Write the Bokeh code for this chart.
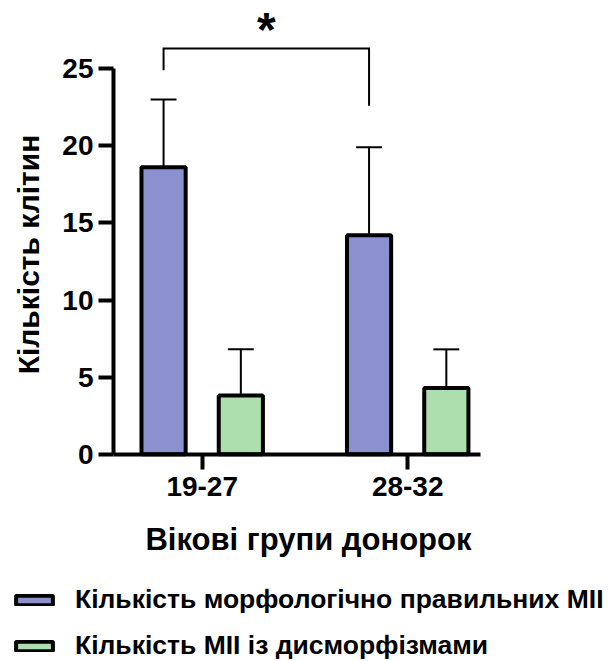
import math
from bokeh.plotting import figure
from bokeh.models import (Range1d, Label, Legend, LegendItem, FixedTicker,
                          ColumnDataSource)
from bokeh.core.properties import value
from bokeh.embed import file_html
from bokeh.resources import INLINE

# ---- data ----
groups = ["19-27", "28-32"]
group_pos = [1, 2]
morph_mean = [18.6, 14.2]
morph_err = [4.4, 5.7]
dysm_mean = [3.8, 4.3]
dysm_err = [3.0, 2.5]
y_ticks = [0, 5, 10, 15, 20, 25]
series_names = ["Кількість морфологічно правильних MII",
                "Кількість MII із дисморфізмами"]
y_title = "Кількість клітин"
x_title = "Вікові групи донорок"
sig_bracket_y = 26.3
sig_bracket_ends = [24.9, 22.6]
sig_text = "*"

# ---- styling / layout ----
FONT = "Liberation Sans"
C_MORPH = "#8A91CE"
C_DYSM = "#ADDEAD"
offset = 0.188
bar_w = 0.215
cap_hw = 0.063
X0, X1 = 0.0185, 3.0015      # frame covers whole canvas
Y0, Y1 = -13.44, 29.42
AX_X = 0.5684                 # where the y axis sits
AX_XEND = 2.354               # right end of x axis line

p = figure(width=613, height=661,
           x_range=Range1d(X0, X1), y_range=Range1d(Y0, Y1),
           output_backend="svg", toolbar_location=None,
           min_border_left=0, min_border_right=0,
           min_border_top=0, min_border_bottom=0)
p.outline_line_color = None
p.grid.visible = False
p.background_fill_color = "white"
p.border_fill_color = "white"

x_morph = [g - offset for g in group_pos]
x_dysm = [g + offset for g in group_pos]

src_m = ColumnDataSource(dict(x=x_morph, top=morph_mean,
                              up=[m + e for m, e in zip(morph_mean, morph_err)]))
src_d = ColumnDataSource(dict(x=x_dysm, top=dysm_mean,
                              up=[m + e for m, e in zip(dysm_mean, dysm_err)]))

for src in (src_m, src_d):
    p.segment(x0="x", y0="top", x1="x", y1="up", source=src,
              line_color="black", line_width=2)
    d = src.data
    p.segment(x0=[x - cap_hw for x in d["x"]], y0=d["up"],
              x1=[x + cap_hw for x in d["x"]], y1=d["up"],
              line_color="black", line_width=2)

r_m = p.vbar(x="x", top="top", width=bar_w, source=src_m,
             fill_color=C_MORPH, line_color="black", line_width=4)
r_d = p.vbar(x="x", top="top", width=bar_w, source=src_d,
             fill_color=C_DYSM, line_color="black", line_width=4)

# significance bracket between the two "morph" bars
bx0, bx1 = x_morph[0], x_morph[1]
p.line(x=[bx0, bx0, bx1, bx1],
       y=[sig_bracket_ends[0], sig_bracket_y, sig_bracket_y, sig_bracket_ends[1]],
       line_color="black", line_width=2, line_join="miter")
p.text(x=[(bx0 + bx1) / 2], y=[sig_bracket_y + 1.25], text=[sig_text],
       text_font=value(FONT), text_font_style="bold", text_font_size="48px",
       text_align="center", text_baseline="alphabetic", text_color="black")

# axes drawn at fixed data locations inside the frame
p.yaxis.fixed_location = AX_X
p.xaxis.fixed_location = 0
p.yaxis.ticker = FixedTicker(ticks=y_ticks)
p.yaxis.bounds = (y_ticks[0], y_ticks[-1])
p.xaxis.ticker = FixedTicker(ticks=group_pos)
p.xaxis.bounds = (AX_X, AX_XEND)
p.xaxis.major_label_overrides = {g: lab for g, lab in zip(group_pos, groups)}
for ax in (p.xaxis, p.yaxis):
    ax.axis_line_width = 4
    ax.axis_line_color = "black"
    ax.major_tick_line_width = 4
    ax.major_tick_line_color = "black"
    ax.major_tick_out = 15
    ax.major_tick_in = 0
    ax.minor_tick_line_color = None
    ax.major_label_text_font = FONT
    ax.major_label_text_font_style = "bold"
    ax.major_label_text_font_size = "28px"
    ax.major_label_text_color = "black"
p.yaxis.major_label_standoff = 5
p.xaxis.major_label_standoff = 8

# axis titles
p.add_layout(Label(x=0.1547, y=12.95, text=y_title, angle=math.pi / 2,
                   text_font=FONT, text_font_style="bold", text_font_size="30px",
                   text_align="center", text_baseline="middle", text_color="black"))
p.add_layout(Label(x=1.517, y=-5.53, text=x_title,
                   text_font=FONT, text_font_style="bold", text_font_size="31px",
                   text_align="center", text_baseline="middle", text_color="black"))

legend = Legend(items=[LegendItem(label=series_names[0], renderers=[r_m]),
                       LegendItem(label=series_names[1], renderers=[r_d])],
                location=(11, 0), orientation="vertical",
                glyph_width=46, glyph_height=12, label_standoff=18,
                label_text_font=FONT, label_text_font_style="bold",
                label_text_font_size="26.5px", label_text_color="black",
                padding=0, margin=0, spacing=15,
                border_line_color=None, background_fill_alpha=0)
p.add_layout(legend, "center")

open("out.html", "w").write(file_html(p, INLINE))
